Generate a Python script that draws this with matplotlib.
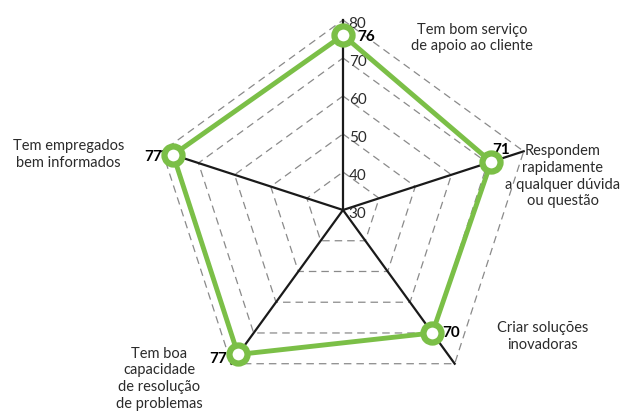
import numpy as np
import matplotlib.pyplot as plt

# DATA
categories = ['Tem bom serviço\nde apoio ao cliente',
              'Respondem\nrapidamente\na qualquer dúvida\nou questão',
              'Criar soluções\ninovadoras',
              'Tem boa\ncapacidade\nde resolução\nde problemas',
              'Tem empregados\nbem informados']
values = [76, 71, 70, 77, 77]
ticks = [30, 40, 50, 60, 70, 80]
r_min, r_max = 30, 80

# STYLE
green = '#7bbf47'
text_col = '#2b2b2b'
plt.rcParams['font.family'] = ['Lato', 'DejaVu Sans']

# label offsets in pixels (x, y up)
cat_off = [(129, -18), (39, -25), (88, 27), (-72, -15), (-94, -3)]
val_off = [(14, -2), (1, 12), (10, 0), (-11, -5), (-11, -2)]
val_ha = ['left', 'left', 'left', 'right', 'right']

n = len(categories)
ang = np.deg2rad(90 - 72 * np.arange(n))

def xy(v, a):
    r = v - r_min
    return r * np.cos(a), r * np.sin(a)

fig = plt.figure(figsize=(6.2, 4.13), dpi=100)
ax = fig.add_axes([0, 0, 1, 1])
scale = 3.8  # pixels per value unit
ax.set_xlim(-343 / scale, 277 / scale)
ax.set_ylim(-203 / scale, 210 / scale)
ax.axis('off')

# grid pentagons
for t in ticks[1:]:
    gx, gy = xy(t, np.append(ang, ang[0]))
    ax.plot(gx, gy, color='#8a8a8a', lw=0.9, dashes=(6, 4), zorder=1)

# spokes
for a in ang:
    ex, ey = xy(r_max, a)
    ax.plot([0, ex], [0, ey], color='#1a1a1a', lw=1.6, zorder=2)

# tick labels along top spoke
for t in ticks:
    tx, ty = xy(t, ang[0])
    ax.text(tx + 1.5, ty - 1.0, str(t), fontsize=11, color=text_col,
            ha='left', va='center', zorder=3)

# data polygon
px, py = xy(np.array(values + values[:1]), np.append(ang, ang[0]))
ax.plot(px, py, color=green, lw=3.5, zorder=4)
ax.plot(px[:-1], py[:-1], 'o', ms=13, mfc='white', mec=green, mew=4.5, zorder=5)

# value labels and category labels
for i in range(n):
    vx, vy = xy(values[i], ang[i])
    ax.annotate(str(values[i]), (vx, vy), xytext=val_off[i], textcoords='offset pixels',
                ha=val_ha[i], va='center', fontsize=11, fontweight='bold', color='black')
    cx, cy = xy(r_max, ang[i])
    ax.annotate(categories[i], (cx, cy), xytext=cat_off[i], textcoords='offset pixels',
                ha='center', va='center', multialignment='center', fontsize=10.5,
                color=text_col, linespacing=1.25)

plt.savefig('out.png', dpi=100)
